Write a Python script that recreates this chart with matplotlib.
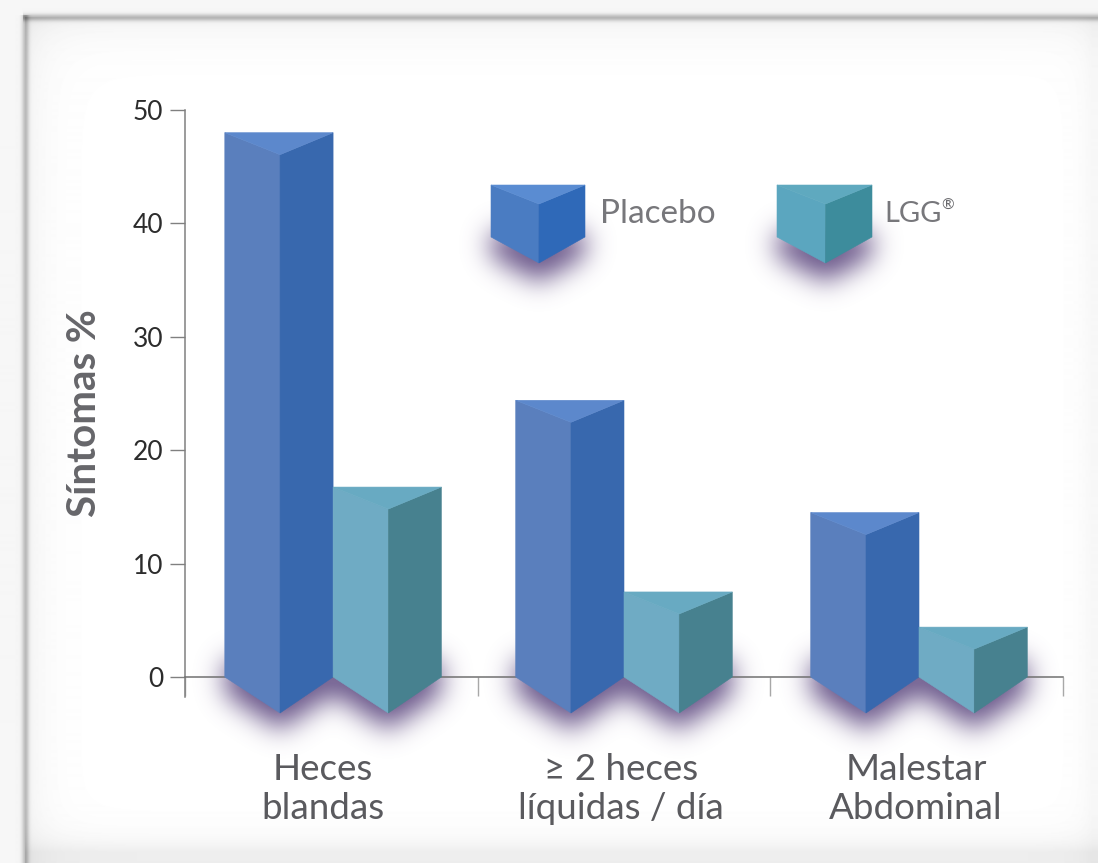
#importing modules
import numpy as np
import matplotlib
matplotlib.use('Agg')
import matplotlib.pyplot as plt
from matplotlib.patches import Polygon
from matplotlib.path import Path

plt.rcParams['font.family'] = ['Lato', 'DejaVu Sans']

categories = ['Heces\nblandas', '≥ 2 heces\nlíquidas / día', 'Malestar\nAbdominal']
placebo = [48, 24.4, 14.5]
lgg = [16.75, 7.5, 4.4]
yticks = [0, 10, 20, 30, 40, 50]
legend_names = ['Placebo', 'LGG', '®']

# left, front and right faces, then the top of the prism
placebo_colors = ['#5a7fbd', '#3868ae', '#5c88cc']
lgg_colors = ['#6fabc4', '#47818f', '#68aac2']
placebo_key_colors = ['#4a7cc2', '#2f69b8', '#5a8cd2']
lgg_key_colors = ['#5ba6bf', '#3d8c9c', '#5fa9bf']

W, H = 1098, 863
fig = plt.figure(figsize=(W / 100, H / 100), dpi=100)

# pixel canvas behind the chart: panel, shadows, legend and captions
bg = fig.add_axes([0, 0, 1, 1], zorder=0)
bg.set_xlim(0, W)
bg.set_ylim(H, 0)
bg.axis('off')

# chart axes, the lower limit leaves room for the long ticks under zero
ax = fig.add_axes([185 / W, 1 - 697 / H, 878 / W, 587 / H], zorder=1)
ax.patch.set_alpha(0)
ax.set_xlim(-0.5, 2.5)
ax.set_ylim(-20 / 11.34, 50)
for side in ['top', 'right']:
    ax.spines[side].set_visible(False)
ax.spines['bottom'].set_position(('data', 0))
ax.spines['left'].set_color('#808080')
ax.spines['bottom'].set_color('#707070')
ax.spines['left'].set_linewidth(1.1)
ax.spines['bottom'].set_linewidth(1.1)
ax.set_yticks(yticks)
ax.set_xticks([-0.5, 0.5, 1.5, 2.5])
ax.set_xticklabels([])
ax.tick_params(axis='y', length=10.5, width=1, color='#808080', labelsize=19, labelcolor='#2c2c2c', pad=5)
ax.tick_params(axis='x', length=14, width=1, color='#a8a8a8')

width = 0.37
dip = 22 / 11.34
point = 36 / 11.34
# the groups do not sit exactly in the middle of their tick intervals
nudge = [0.006, 0.0, 0.008]


def prism(axis, left, right, top, base, drop, low, colors, zorder=3):
    # three faces of a triangular column seen from above
    front = left + (right - left) * 0.51
    faces = [[(left, top), (front, top - drop), (front, low), (left, base)],
             [(right, top), (front, top - drop), (front, low), (right, base)],
             [(left, top), (right, top), (front, top - drop)]]
    for face, color in zip(faces, colors):
        axis.add_patch(Polygon(face, closed=True, facecolor=color, edgecolor=color,
                               linewidth=0.4, zorder=zorder, clip_on=False))


shadow_shapes = []
for i, (p, l) in enumerate(zip(placebo, lgg)):
    c = i + nudge[i]
    prism(ax, c - width, c, p, 0, dip, -point, placebo_colors)
    prism(ax, c, c + width, l, 0, dip, -point, lgg_colors)
    for left in [c - width, c]:
        pts = [(left, 3), (left, 0), (left + width * 0.51, -point), (left + width, 0), (left + width, 3)]
        xy = ax.transData.transform(pts)
        xy[:, 1] = H - xy[:, 1]
        shadow_shapes.append(xy + [0, 17])

# legend keys in pixel positions
key_boxes = [(491, 585), (777, 872)]
for (left, right), colors in zip(key_boxes, [placebo_key_colors, lgg_key_colors]):
    prism(bg, left, right, 185, 237, 185 - 204, 263, colors, zorder=5)
    front = left + (right - left) * 0.51
    shadow_shapes.append(np.array([(left, 215), (left, 240), (front, 266), (right, 240), (right, 215)]) + [0, 17])

# panel background with its soft inner edge
yy, xx = np.mgrid[0:H, 0:W]
panel = np.ones((H, W))
dtop = np.clip(yy - 18.0, 0, None)
dleft = np.clip(xx - 25.0, 0, None)
dright = np.clip(1092.0 - xx, 0, None)
dbottom = np.clip(852.0 - yy, 0, None)
panel -= 0.05 * np.exp(-dtop / 22) + 0.05 * np.exp(-dleft / 22)
panel -= 0.03 * np.exp(-dright / 14)
panel -= 0.07 * np.exp(-dbottom / 14)
panel[(yy < 18) | (xx < 25)] = 0.965
panel -= 0.24 * np.exp(-((yy - 18) / 3.5) ** 2) * (xx >= 23)
panel -= 0.22 * np.exp(-((xx - 25) / 3.5) ** 2) * (yy >= 16)
bg.imshow(panel, cmap='gray', vmin=0, vmax=1, extent=(0, W, H, 0), aspect='auto', zorder=1)

# blurred shadow under the columns
mask = np.zeros((H, W))
grid = np.column_stack([xx.ravel() + 0.5, yy.ravel() + 0.5])
for shape in shadow_shapes:
    mask[Path(shape).contains_points(grid).reshape(H, W)] = 1
kernel = np.exp(-0.5 * (np.arange(-40, 41) / 13.0) ** 2)
kernel /= kernel.sum()
mask = np.apply_along_axis(np.convolve, 0, mask, kernel, mode='same')
mask = np.apply_along_axis(np.convolve, 1, mask, kernel, mode='same')
shadow = np.zeros((H, W, 4))
shadow[..., :3] = np.array([104, 84, 136]) / 255
shadow[..., 3] = mask
bg.imshow(shadow, extent=(0, W, H, 0), aspect='auto', zorder=2)
bg.set_xlim(0, W)
bg.set_ylim(H, 0)

# captions
label_x = [323, 621, 916]
for x, name in zip(label_x, categories):
    bg.text(x, 789, name, ha='center', va='center', fontsize=26.5, color='#5a5a5e',
            linespacing=1.22, zorder=6)
bg.text(84, 413, 'Síntomas %', rotation=90, ha='center', va='center', fontsize=29,
        fontweight='bold', color='#66666a', zorder=6)
bg.text(600, 214, legend_names[0], ha='left', va='center', fontsize=24,
        color='#77777b', zorder=6)
bg.text(884, 214, legend_names[1], ha='left', va='center', fontsize=21,
        color='#77777b', zorder=6)
bg.text(941, 206, legend_names[2], ha='left', va='center', fontsize=11,
        color='#66666a', zorder=6)

fig.savefig('out.png', dpi=100)
